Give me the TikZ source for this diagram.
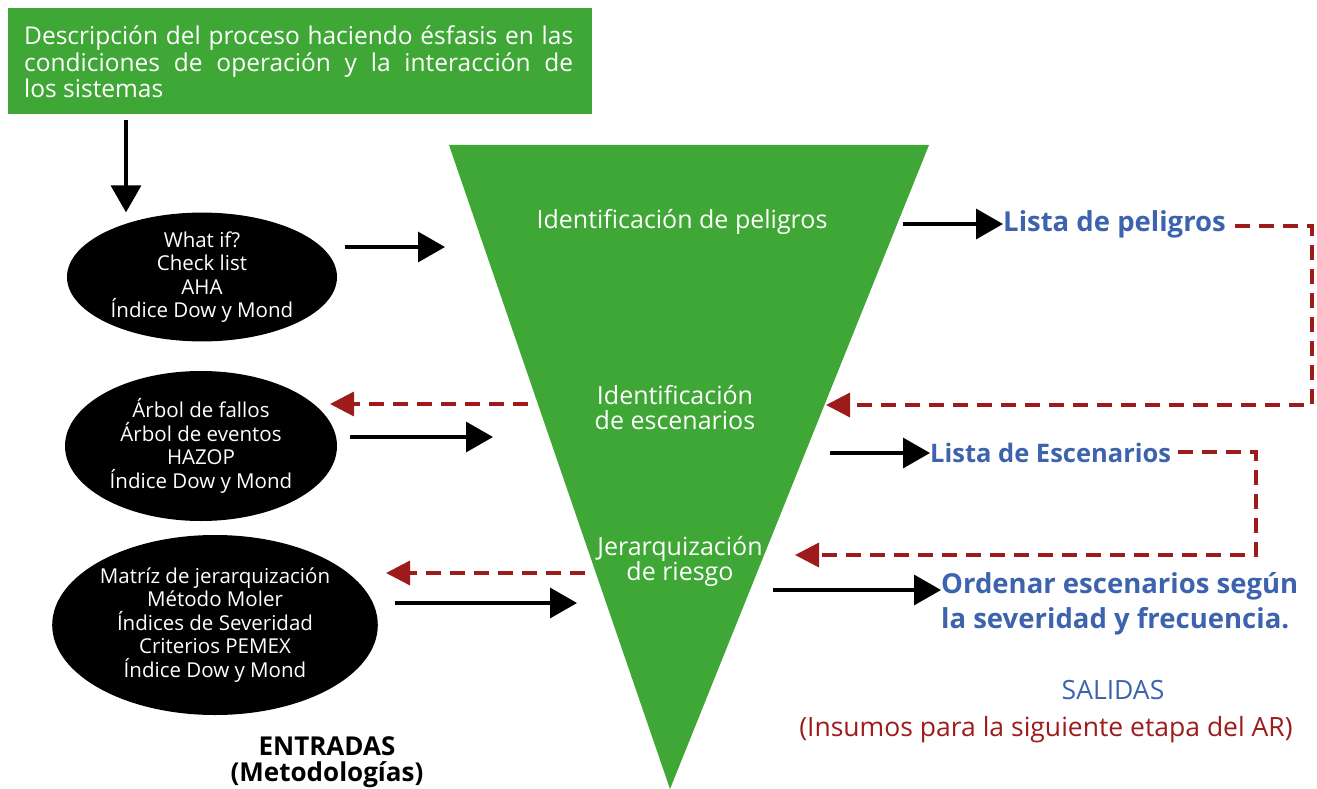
\documentclass[tikz,border=0pt]{standalone}
\usepackage{fontspec}
\setmainfont{Open Sans}
\usetikzlibrary{arrows.meta,shapes.geometric}
\definecolor{gr}{RGB}{63,167,53}
\definecolor{bl}{RGB}{61,99,174}
\definecolor{rd}{RGB}{158,27,27}
\tikzset{
  blk/.style={line width=3.5pt,-{Triangle[length=27pt,width=30pt]}},
  rdash/.style={rd,line width=3.5pt,dash pattern=on 15pt off 9pt,-{Triangle[length=24pt,width=24pt]}},
  ell/.style={ellipse,fill=black,text=white,align=center,font=\fontsize{20.5}{23.5}\selectfont,inner sep=0pt},
  tri/.style={text=white,align=center,font=\fontsize{25}{25}\selectfont},
  outb/.style={bl,font=\bfseries\fontsize{27.5}{35}\selectfont,anchor=west,inner sep=0pt},
}
\begin{document}
\begin{tikzpicture}[x=1pt,y=-1pt]
\useasboundingbox (0,0) rectangle (1317,789);
% top box
\node[fill=gr,minimum width=584pt,minimum height=106pt,anchor=north west,inner sep=0pt] (box) at (8,8) {};
\node[text=white,text width=549pt,align=justify,anchor=north west,inner sep=0pt,font=\fontsize{24.5}{26.5}\selectfont] (boxt) at (24,26)
 {Descripción del proceso haciendo ésfasis en las\linebreak condiciones de operación y la interacción de\linebreak los sistemas};
% triangle
\coordinate (TL) at (449,145);
\coordinate (TR) at (929,145);
\coordinate (TB) at (670,789);
\fill[gr] (TL) -- (TR) -- (TB) -- cycle;
\node[tri] (t1) at (682,222) {Identificación de peligros};
\node[tri] (t2) at (675,408) {Identificación\\de escenarios};
\node[tri] (t3) at (680,561) {Jerarquización\\de riesgo};
% ellipses
\node[ell,minimum width=270pt,minimum height=122pt] (e1) at (202,277) {What if?\\Check list\\AHA\\Índice Dow y Mond};
\node[ell,minimum width=272pt,minimum height=150pt] (e2) at (201,446) {Árbol de fallos\\Árbol de eventos\\HAZOP\\Índice Dow y Mond};
\node[ell,minimum width=319pt,minimum height=180pt] (e3) at (215,625) {Matríz de jerarquización\\Método Moler\\Índices de Severidad\\Criterios PEMEX\\Índice Dow y Mond};
% down arrow
\coordinate (d0) at (126,120);
\draw[blk] (d0) -- (d0 |- e1.north);
% input arrows
\coordinate (a1s) at (345,247); \coordinate (a1e) at (445,247);
\coordinate (a2s) at (350,437); \coordinate (a2e) at (493,437);
\coordinate (a3s) at (395,603); \coordinate (a3e) at (577,603);
\draw[blk] (a1s) -- (a1e);
\draw[blk] (a2s) -- (a2e);
\draw[blk] (a3s) -- (a3e);
% red dashed back to ellipses
\coordinate (r1s) at (528,404); \coordinate (r1e) at (330,404);
\coordinate (r2s) at (585,573); \coordinate (r2e) at (386,573);
\draw[rdash] (r1s) -- (r1e);
\draw[rdash] (r2s) -- (r2e);
% outputs
\node[outb] (o1) at (1003,224) {Lista de peligros};
\node[outb,font=\bfseries\fontsize{25.5}{35}\selectfont] (o2) at (930,453) {Lista de Escenarios};
\node[outb,align=left] (o3) at (941,604) {Ordenar escenarios según\\la severidad y frecuencia.};
\coordinate (b1s) at (903,224);
\coordinate (b2s) at (830,453);
\coordinate (b3s) at (773,590);
\draw[blk] (b1s) -- (o1.west);
\draw[blk] (b2s) -- (o2.west);
\draw[blk] (b3s) -- (o3.west |- b3s);
% feedback loops
\coordinate (f1a) at (1235,226); \coordinate (f1b) at (1312,226);
\coordinate (f1c) at (1312,405); \coordinate (f1d) at (826,405);
\draw[rdash] (f1a) -- (f1b) -- (f1c) -- (f1d);
\coordinate (f2a) at (1178,452); \coordinate (f2b) at (1256,452);
\coordinate (f2c) at (1256,555); \coordinate (f2d) at (795,555);
\draw[rdash] (f2a) -- (f2b) -- (f2c) -- (f2d);
% labels
\node[bl,font=\fontsize{26.5}{30}\selectfont] (sal) at (1113,690) {SALIDAS};
\node[rd,font=\fontsize{26.5}{30}\selectfont] (ins) at (1046,730) {(Insumos para la siguiente etapa del AR)};
\node[align=center,font=\bfseries\fontsize{26}{26}\selectfont] (ent) at (327,762) {ENTRADAS\\(Metodologías)};
\end{tikzpicture}
\end{document}
